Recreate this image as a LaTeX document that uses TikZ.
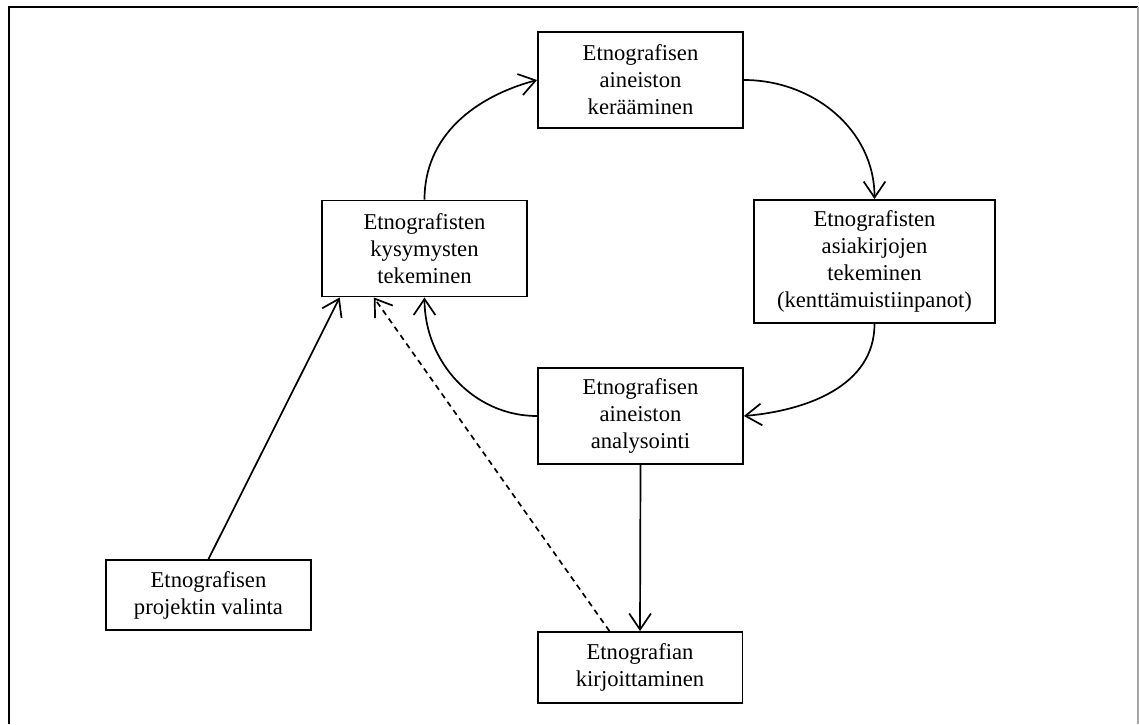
\documentclass[tikz,border=0pt]{standalone}
\usepackage{fontspec}
\setmainfont{Liberation Serif}
\usetikzlibrary{arrows.meta}

\begin{document}
\begin{tikzpicture}[x=0.53pt,y=0.53pt,
  stage/.style={draw=black,line width=1pt,align=center,inner sep=0pt,
    minimum width=108.6pt,minimum height=50.9pt,
    font=\fontsize{12}{14.3}\selectfont},
  arr/.style={line width=0.9pt,-{Straight Barb[length=8.5pt,width=11.5pt,line width=0.9pt]}}]
\useasboundingbox (0,0) rectangle (1139,724);

% frame
\draw[line width=1.2pt] (9,0) -- (9,717) -- (1138,717);
\draw[line width=1pt,black!35] (1138,717) -- (1138,0);

\node[stage] (kerays)     at (640.5,644)   {Etnografisen\\aineiston\\kerääminen};
\node[stage] (kysymykset) at (424.5,475.5) {Etnografisten\\kysymysten\\tekeminen};
\node[stage,minimum width=127.7pt,minimum height=65.2pt] (asiakirjat) at (874.5,462.5)
  {Etnografisten\\asiakirjojen\\tekeminen\\(kenttämuistiinpanot)};
\node[stage] (analyysi)   at (640.5,308)   {Etnografisen\\aineiston\\analysointi};
\node[stage,minimum height=37.1pt] (valinta)  at (208.5,129)  {Etnografisen\\projektin valinta};
\node[stage,minimum height=37.6pt] (kirjoitus) at (640,56.5)  {Etnografian\\kirjoittaminen};

\draw[arr] (kysymykset.north) to[out=90,in=195] (kerays.west);
\draw[arr] (kerays.east) to[out=0,in=90] (asiakirjat.north);
\draw[arr] (asiakirjat.south) to[out=-90,in=5] (analyysi.east);
\draw[arr] (analyysi.west) to[out=180,in=-90] (kysymykset.south);
\draw[arr] (analyysi.south) -- (kirjoitus.north);
\draw[arr] (valinta.north) -- (kysymykset.-150);
\draw[arr,dash pattern=on 3pt off 2.4pt] (kirjoitus.130) -- (kysymykset.-136);

\end{tikzpicture}
\end{document}
